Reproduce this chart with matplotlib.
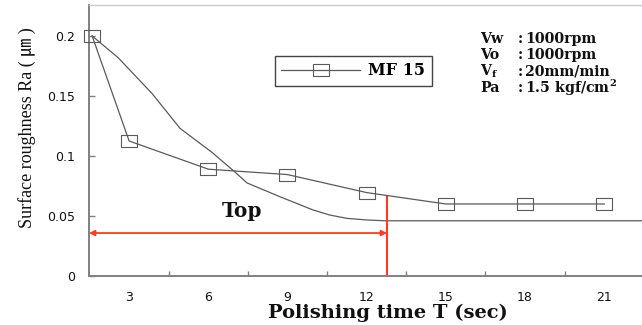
import matplotlib
matplotlib.use("Agg")
import matplotlib.pyplot as plt
from matplotlib.lines import Line2D

# ---- data ----
T_data = [1.6, 3, 6, 9, 12, 15, 18, 21]
Ra_data = [0.2, 0.1125, 0.089, 0.0845, 0.0695, 0.06, 0.06, 0.06]

T_curve = [1.6, 2.58, 3.87, 4.93, 6.14, 6.94, 7.47, 8.72, 9.97, 10.6, 11.26, 12.0, 12.7, 22.5]
Ra_curve = [0.2, 0.182, 0.152, 0.123, 0.103, 0.088, 0.0775, 0.066, 0.055, 0.0508, 0.048, 0.0467, 0.046, 0.046]

x_ticks = [3, 6, 9, 12, 15, 18, 21]
x_minor = [4.5, 7.5, 10.5, 13.5, 16.5, 19.5]
y_ticks = [0, 0.05, 0.1, 0.15, 0.2]
y_ticklabels = ["0", "0.05", "0.1", "0.15", "0.2"]

T_top = 12.77          # end of "Top" region
Ra_arrow = 0.0358      # height of the red arrow
Ra_top_line = 0.0667   # top of red vertical line

series_label = "MF 15"
cond_names = ["Vw", "Vo", r"V$_\mathbf{f}$", "Pa"]
cond_values = ["1000rpm", "1000rpm", "20mm/min", r"1.5 kgf/cm$^\mathbf{2}$"]

W, H = 642, 325
plt.rcParams['mathtext.fontset'] = 'custom'
plt.rcParams['mathtext.rm'] = 'DejaVu Serif'
plt.rcParams['mathtext.bf'] = 'DejaVu Serif:bold'

fig = plt.figure(figsize=(W / 100, H / 100), dpi=100)
ax = fig.add_axes([89 / W, 49 / H, 553 / W, 271 / H])
ax.set_xlim(1.48, 22.43)
ax.set_ylim(0, 0.2258)

gray = '#5a5a5a'
rect = [(-1.45, -1), (1.45, -1), (1.45, 1), (-1.45, 1), (-1.45, -1)]

ax.plot(T_curve, Ra_curve, color=gray, lw=0.9, clip_on=True)
ax.plot(T_data, Ra_data, color=gray, lw=0.9, marker=rect, markersize=11.5,
        markerfacecolor='none', markeredgecolor=gray, markeredgewidth=0.8,
        clip_on=False, zorder=3)

red = '#ff3b1f'
ax.annotate('', xy=(1.48, Ra_arrow), xytext=(T_top, Ra_arrow),
            arrowprops=dict(arrowstyle='<|-|>', color=red, lw=1.3,
                            mutation_scale=8, shrinkA=0, shrinkB=0))
ax.plot([T_top, T_top], [0, Ra_top_line], color=red, lw=1.5)

# spines
for s in ['left', 'bottom']:
    ax.spines[s].set_color('#808080')
    ax.spines[s].set_linewidth(1.4)
ax.spines['top'].set_color('#c8c8c8')
ax.spines['top'].set_linewidth(1.0)
ax.spines['right'].set_visible(False)

ax.set_xticks(x_ticks)
ax.set_xticklabels([str(t) for t in x_ticks])
ax.set_xticks(x_minor, minor=True)
ax.set_yticks(y_ticks)
ax.set_yticklabels(y_ticklabels)
ax.tick_params(axis='x', which='major', length=0, pad=11, labelsize=9,
               labelcolor='#111111')
ax.tick_params(axis='x', which='minor', direction='in', length=3.5,
               width=1.0, color='#808080')
ax.tick_params(axis='y', direction='in', length=4, width=1.0, color='#808080',
               pad=10, labelsize=9, labelcolor='#111111')
for lab in ax.get_xticklabels() + ax.get_yticklabels():
    lab.set_family('DejaVu Sans')

# legend
h = Line2D([], [], color=gray, lw=0.9, marker=rect, markersize=11.5,
           markerfacecolor='none', markeredgecolor=gray, markeredgewidth=0.8)
leg = fig.legend([h], [series_label], loc='upper left',
                 bbox_to_anchor=(275 / W, 1 - 56 / H), bbox_transform=fig.transFigure,
                 borderaxespad=0, fancybox=False, framealpha=1,
                 edgecolor='#444444', handlelength=4.9, handletextpad=0.55,
                 borderpad=0.4,
                 prop=dict(family='DejaVu Serif', weight='bold', size=11.5))
leg.get_frame().set_linewidth(1.0)

# text annotations (figure pixel positions)
def fx(x):
    return x / W

def fy(y):
    return 1 - y / H

baselines = [43, 59, 75.5, 92.5]
for yb, n, v in zip(baselines, cond_names, cond_values):
    fig.text(fx(480), fy(yb), n, family='DejaVu Serif', weight='bold', size=10.2,
             va='baseline', ha='left', color='#111111')
    fig.text(fx(518), fy(yb), ':', family='DejaVu Serif', weight='bold', size=10.2,
             va='baseline', ha='left', color='#111111')
    fig.text(fx(525), fy(yb), v, family='DejaVu Serif', weight='bold', size=10.2,
             va='baseline', ha='left', color='#111111')

fig.text(fx(242), fy(217), 'Top', family='DejaVu Serif', weight='bold', size=14.5,
         va='baseline', ha='center', color='#111111')

fig.text(fx(388), fy(318), 'Polishing time T (sec)', family='DejaVu Serif',
         weight='bold', size=14, va='baseline', ha='center', color='#111111')

fig.text(fx(27), fy(128), 'Surface roughness Ra ( ㎛ )',
         family=['Liberation Serif', 'Noto Sans CJK KR'], size=13,
         rotation=90, va='center', ha='center', color='#111111')

fig.savefig('out.png', dpi=100)
